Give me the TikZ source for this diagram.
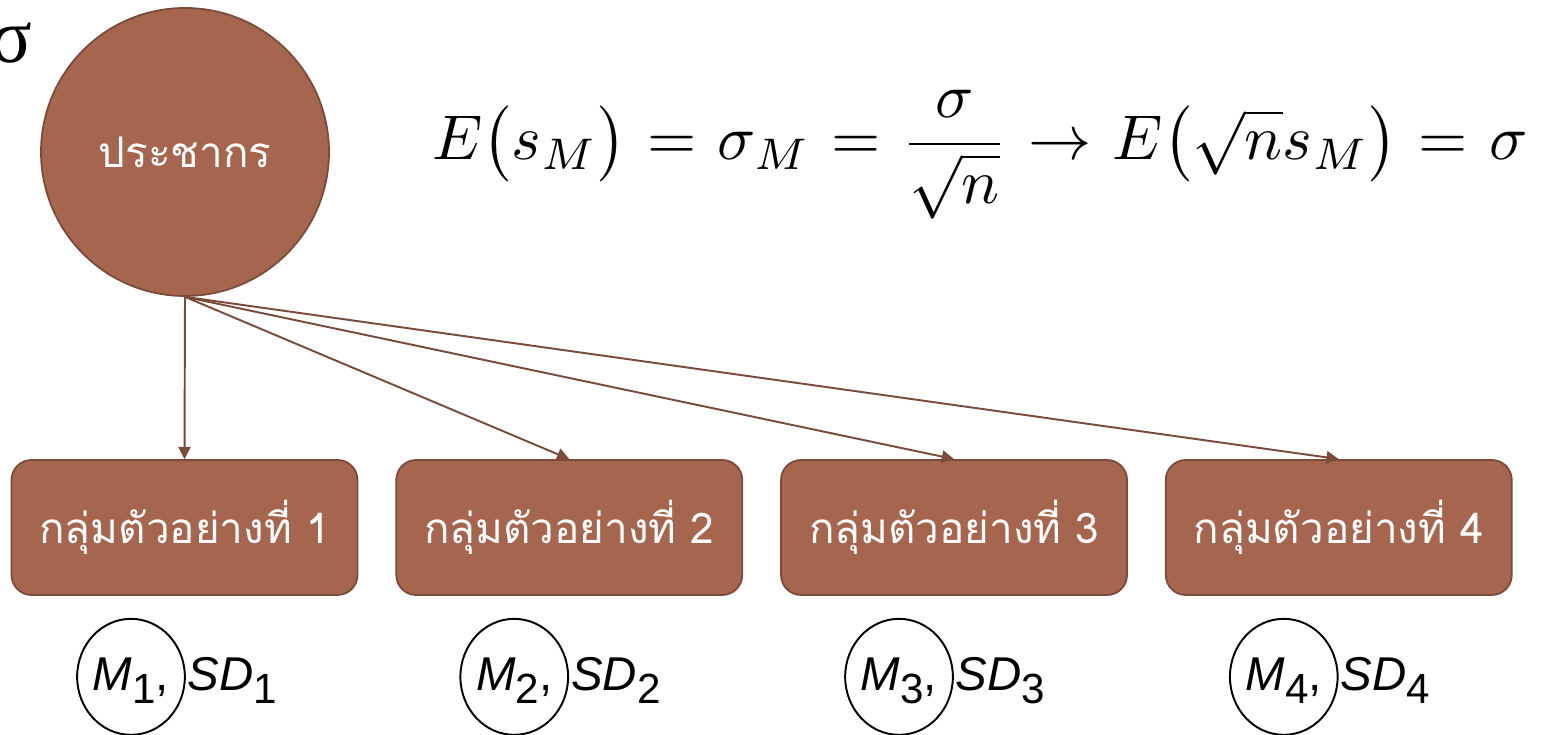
\documentclass[tikz,border=0pt]{standalone}
\usepackage{fontspec}
\usepackage{amsmath}
\usepackage{graphicx}
\usetikzlibrary{positioning, arrows.meta, shapes.geometric}
\newfontfamily\thaifont[Script=Thai]{Loma}
\newfontfamily\labelfont{Liberation Sans}
\newfontfamily\greekfont{Liberation Serif}
\definecolor{brownfill}{HTML}{A5654F}
\definecolor{brownline}{HTML}{7A4A3A}
\newcommand{\lowsub}[1]{\raisebox{-0.27em}{\upshape\fontsize{24}{28}\selectfont #1}}

\begin{document}
\begin{tikzpicture}[
    node distance=0.74cm,
    population/.style={
        circle,
        draw=brownline,
        line width=1pt,
        fill=brownfill,
        minimum size=5.76cm,
        inner sep=0pt,
        text=white,
        font=\thaifont\fontsize{24}{28}\selectfont
    },
    sample/.style={
        draw=brownline,
        line width=1pt,
        fill=brownfill,
        rounded corners=0.4cm,
        minimum width=6.92cm,
        minimum height=2.7cm,
        text=white,
        font=\thaifont\fontsize{24}{28}\selectfont
    },
    statfont/.style={
        inner sep=0pt,
        text height=25pt,
        text depth=9pt,
        font=\labelfont\fontsize{27}{32}\selectfont
    },
    stat/.style={
        statfont,
        ellipse,
        draw,
        line width=1.1pt,
        minimum width=2.1cm,
        minimum height=2.32cm
    },
    arrow/.style={-{Triangle[length=7pt,width=7pt]}, draw=brownline, line width=1.1pt}
]
\useasboundingbox (0,0) rectangle (31.08,14.7);

\node (sig) [anchor=base east, inner sep=0pt, font=\greekfont\fontsize{44}{50}\selectfont] at (0.66,13.44) {σ};
\node (pop) [population] at (3.70,11.66) {ประชากร};
\node (eq) [anchor=base west, inner sep=0pt] at (8.64,11.5)
    {\scalebox{3.6}{$\thickmuskip=6mu E\bigl(s_M\bigr)=\sigma_M=\dfrac{\sigma}{\sqrt{n}}\rightarrow E\bigl(\sqrt{n}s_M\bigr)=\sigma$}};

\node (s1) [sample] at (3.69,4.15) {กลุ่มตัวอย่างที่ 1};
\node (s2) [sample, right=of s1] {กลุ่มตัวอย่างที่ 2};
\node (s3) [sample, right=of s2] {กลุ่มตัวอย่างที่ 3};
\node (s4) [sample, right=of s3] {กลุ่มตัวอย่างที่ 4};

\draw[arrow] (pop.south) -- (s1.north);
\draw[arrow] (pop.south) -- (s2.north);
\draw[arrow] (pop.south) -- (s3.north);
\draw[arrow] (pop.south) -- (s4.north);

\node (m1) [stat, below=0.44cm of s1, xshift=-1.07cm] {{\itshape M}\lowsub{1},};
\node (sd1) [statfont, right=1pt of m1] {{\itshape SD}\lowsub{1}};
\node (m2) [stat, below=0.44cm of s2, xshift=-1.1cm] {{\itshape M}\lowsub{2},};
\node (sd2) [statfont, right=1pt of m2] {{\itshape SD}\lowsub{2}};
\node (m3) [stat, below=0.44cm of s3, xshift=-1.1cm] {{\itshape M}\lowsub{3},};
\node (sd3) [statfont, right=1pt of m3] {{\itshape SD}\lowsub{3}};
\node (m4) [stat, below=0.44cm of s4, xshift=-1.1cm] {{\itshape M}\lowsub{4},};
\node (sd4) [statfont, right=1pt of m4] {{\itshape SD}\lowsub{4}};

\end{tikzpicture}
\end{document}
